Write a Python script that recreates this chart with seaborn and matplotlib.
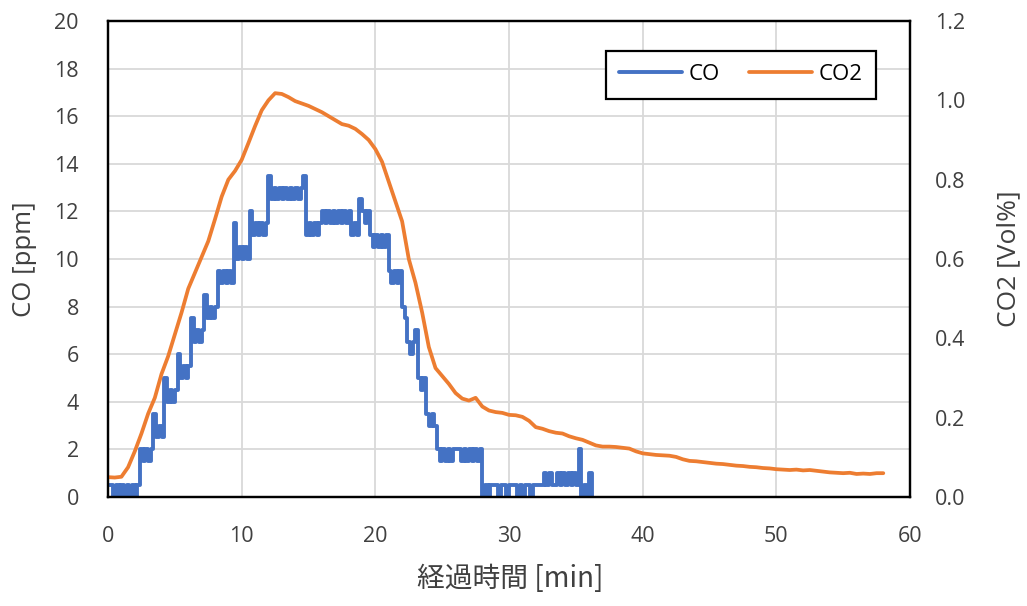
import numpy as np
import pandas as pd
import matplotlib
matplotlib.use("Agg")
import matplotlib.pyplot as plt
import seaborn as sns

# CO logger readings (ppm), one reading every CO_STEP minutes starting at t = 0
CO_STEP = 0.2
co_ppm = [
    # 0.0-2.2 min
    0.5, 0.5, 0, 0.5, 0, 0.5, 0, 0.5, 0, 0.5, 0, 0.5,
    # 2.4-3.2
    2, 1.5, 2, 1.5, 2,
    # 3.4-4.0
    3.5, 2.5, 3, 2.5,
    # 4.2-5.0
    5, 4, 4.5, 4, 4.5,
    # 5.2-6.0
    6, 5, 5.5, 5, 5.5,
    # 6.2-7.0
    7.5, 6.5, 7, 6.5, 7,
    # 7.2-8.0
    8.5, 7.5, 8, 7.5, 8,
    # 8.2-9.2
    9.5, 9, 9.5, 9, 9.5, 9,
    # 9.4-10.4
    11.5, 10, 10.5, 10, 10.5, 10,
    # 10.6-11.8
    12, 11, 11.5, 11, 11.5, 11, 11.5,
    # 12.0-14.6
    13.5, 12.5, 13, 12.5, 13, 12.5, 13, 12.5, 13, 12.5, 13, 12.5, 13, 13.5,
    # 14.8-15.8
    11, 11.5, 11, 11.5, 11, 11.5,
    # 16.0-19.4
    12, 11.5, 12, 11.5, 12, 11.5, 12, 11.5, 12, 11.5, 12, 11, 11.5, 11, 12.5, 12, 11.5, 12,
    # 19.6-20.8
    11, 10.5, 11, 10.5, 11, 10.5, 11,
    # 21.0-21.8
    9.5, 9, 9.5, 9, 9.5,
    # 22.0-22.2
    8, 7.5,
    # 22.4-23.0
    6.5, 6, 6.5, 7,
    # 23.2-23.6
    5, 4.5, 5,
    # 23.8-24.4
    3.5, 3, 3.5, 3,
    # 24.6-27.8
    2, 1.5, 2, 1.5, 2, 1.5, 2, 2, 2, 1.5, 2, 1.5, 2, 1.5, 2, 1.5, 2,
    # 28.0-32.4
    0, 0.5, 0, 0.5, 0.5, 0.5, 0, 0.5, 0.5, 0, 0.5, 0.5, 0.5, 0, 0.5, 0, 0.5, 0.5,
    0, 0.5, 0.5, 0.5, 0.5,
    # 32.6-35.2
    1, 0.5, 1, 0.5, 0.5, 1, 0.5, 1, 0.5, 1, 0.5, 1, 0.5, 2,
    # 35.4-36.2
    0, 0.5, 0, 1, 0,
]

# CO2 readings (Vol%), one every CO2_STEP minutes starting at t = 0
CO2_STEP = 0.5
co2_vol = [
    0.050, 0.049, 0.051, 0.075, 0.115, 0.160, 0.210, 0.250, 0.310, 0.355,   # 0-4.5
    0.410, 0.465, 0.525, 0.565, 0.605, 0.645, 0.700, 0.757, 0.800, 0.822,   # 5-9.5
    0.850, 0.892, 0.935, 0.975, 1.000, 1.018, 1.016, 1.008, 0.998, 0.992,   # 10-14.5
    0.986, 0.978, 0.970, 0.960, 0.950, 0.940, 0.936, 0.928, 0.915, 0.900,   # 15-19.5
    0.877, 0.845, 0.795, 0.745, 0.695, 0.600, 0.540, 0.465, 0.378, 0.325,   # 20-24.5
    0.305, 0.285, 0.262, 0.248, 0.243, 0.250, 0.228, 0.218, 0.214, 0.212,   # 25-29.5
    0.207, 0.206, 0.202, 0.192, 0.176, 0.172, 0.166, 0.162, 0.160, 0.153,   # 30-34.5
    0.148, 0.144, 0.137, 0.130, 0.127, 0.127, 0.126, 0.124, 0.122, 0.115,   # 35-39.5
    0.110, 0.108, 0.106, 0.105, 0.104, 0.101, 0.095, 0.091, 0.090, 0.088,   # 40-44.5
    0.086, 0.084, 0.083, 0.081, 0.079, 0.078, 0.076, 0.075, 0.073, 0.072,   # 45-49.5
    0.070, 0.069, 0.068, 0.069, 0.067, 0.068, 0.066, 0.064, 0.062, 0.061,   # 50-54.5
    0.060, 0.061, 0.058, 0.059, 0.058, 0.060, 0.060,                        # 55-58
]

x_ticks = [0, 10, 20, 30, 40, 50, 60]
co_ticks = [0, 2, 4, 6, 8, 10, 12, 14, 16, 18, 20]
co2_ticks = [0.0, 0.2, 0.4, 0.6, 0.8, 1.0, 1.2]

x_label = "経過時間 [min]"
co_label = "CO [ppm]"
co2_label = "CO2 [Vol%]"

CO_COLOR = "#4472C4"
CO2_COLOR = "#ED7D31"
TEXT_COLOR = "#404040"
GRID_COLOR = "#D9D9D9"

sns.set_theme(style="white")
plt.rcParams["font.family"] = ["Open Sans", "Noto Sans CJK JP", "DejaVu Sans"]

co_df = pd.DataFrame({"time": np.arange(len(co_ppm)) * CO_STEP, "CO": co_ppm})
co2_df = pd.DataFrame({"time": np.arange(len(co2_vol)) * CO2_STEP, "CO2": co2_vol})

fig = plt.figure(figsize=(10.27, 6.06), dpi=100)
ax = fig.add_axes([0.1052, 0.1799, 0.7809, 0.7855])

# CO is a quantised reading, so hold each value until the next sample
sns.lineplot(data=co_df, x="time", y="CO", ax=ax, color=CO_COLOR, lw=2.8,
             estimator=None, legend=False, label="CO", drawstyle="steps-post")
ax.set_xlim(0, 60)
ax.set_ylim(0, 20)
ax.set_xticks(x_ticks)
ax.set_yticks(co_ticks)
ax.grid(True, color=GRID_COLOR, lw=1.3)
ax.set_axisbelow(True)

ax2 = ax.twinx()
sns.lineplot(data=co2_df, x="time", y="CO2", ax=ax2, color=CO2_COLOR, lw=2.7,
             estimator=None, legend=False, label="CO2")
ax2.set_ylim(0, 1.2)
ax2.set_yticks(co2_ticks)
ax2.set_yticklabels([f"{v:.1f}" for v in co2_ticks])
ax2.grid(False)

for a in (ax, ax2):
    for sp in a.spines.values():
        sp.set_visible(True)
        sp.set_color("black")
        sp.set_linewidth(1.6)

ax.tick_params(axis="y", length=0, pad=21, labelsize=15.5, labelcolor=TEXT_COLOR)
ax.tick_params(axis="x", length=0, pad=21, labelsize=15.5, labelcolor=TEXT_COLOR)
ax2.tick_params(axis="y", length=0, pad=18, labelsize=15.5, labelcolor=TEXT_COLOR)

ax.set_xlabel(x_label, fontsize=20, color=TEXT_COLOR, family=["Noto Sans CJK JP", "DejaVu Sans"])
ax.set_ylabel(co_label, fontsize=18.5, color=TEXT_COLOR)
ax2.set_ylabel(co2_label, fontsize=19, color=TEXT_COLOR)
ax.xaxis.set_label_coords(0.501, -0.141)
ax.yaxis.set_label_coords(-0.088, 0.5)
ax2.yaxis.set_label_coords(1.108, 0.5)

handles = [ax.lines[0], ax2.lines[0]]
leg = ax2.legend(handles, ["CO", "CO2"], loc="center", bbox_to_anchor=(0.789, 0.887),
                 ncol=2, fontsize=16, frameon=True, fancybox=False, framealpha=1,
                 edgecolor="black", handlelength=2.8, handletextpad=0.3,
                 columnspacing=1.35, borderpad=0.6)
leg.get_frame().set_linewidth(1.6)
for t in leg.get_texts():
    t.set_color("black")

fig.savefig("out.png", dpi=100)
